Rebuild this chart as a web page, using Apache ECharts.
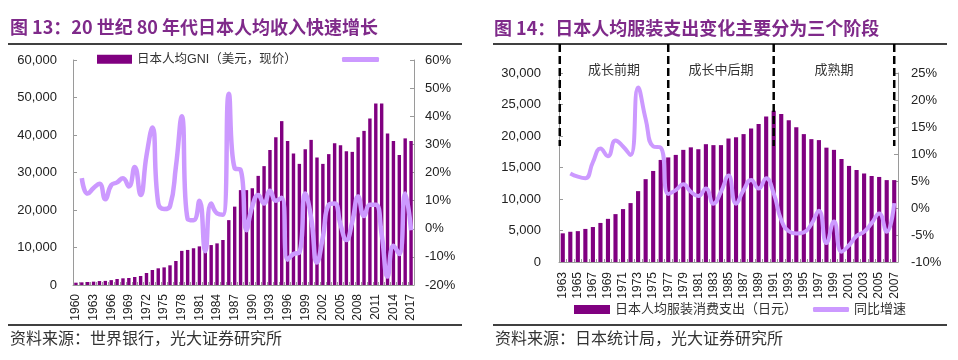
<!DOCTYPE html>
<html><head><meta charset="utf-8">
<script src="https://cdn.jsdelivr.net/npm/echarts/dist/echarts.min.js"></script>
<style>html,body{margin:0;padding:0;background:#fff}#c{width:958px;height:360px}</style>
</head><body><div id="c"></div>
<script>
// ---- Chart 13 data ----
const gniYears = ['1960','1961','1962','1963','1964','1965','1966','1967','1968','1969',
  '1970','1971','1972','1973','1974','1975','1976','1977','1978','1979',
  '1980','1981','1982','1983','1984','1985','1986','1987','1988','1989',
  '1990','1991','1992','1993','1994','1995','1996','1997','1998','1999',
  '2000','2001','2002','2003','2004','2005','2006','2007','2008','2009',
  '2010','2011','2012','2013','2014','2015','2016','2017'];
const gniValues = [620,710,800,890,1050,1100,1300,1600,1780,1870,
  2130,2400,3200,4000,4450,4700,5250,6400,9100,9350,
  9800,10300,8900,10650,11100,12000,17300,20900,25300,25300,
  25800,29100,31700,36000,39400,43700,38400,35100,32300,36200,
  38700,34000,32300,34900,37800,37300,35700,35500,39400,41100,
  44400,48400,48400,40400,38400,34700,39100,38400];
const gniGrowth = [null,18,12.5,14.5,16,10.5,15.5,16.5,18,15,
  22,12,26,36,9,7,8,22,40,3.5,
  3,10,-8,9,5.5,5,48,21.5,21,-0.5,
  8,12,9,13.5,10,11,-11,-9,-8.5,12.5,
  4,-12,-3,8.5,9,1.5,-4,2.5,11.5,4.5,
  8.5,8.5,-2,-17,-6,-9,12.5,-0.5];

// ---- Chart 14 data ----
const clothYears = ['1963','1964','1965','1966','1967','1968','1969','1970','1971','1972',
  '1973','1974','1975','1976','1977','1978','1979','1980','1981','1982',
  '1983','1984','1985','1986','1987','1988','1989','1990','1991','1992',
  '1993','1994','1995','1996','1997','1998','1999','2000','2001','2002',
  '2003','2004','2005','2006','2007'];
const clothValues = [4550,4800,4900,5250,5550,6200,6850,7600,8400,9350,
  11250,13150,14450,16200,16600,17000,17800,18200,17900,18700,
  18550,18550,19600,19800,20300,21200,21900,23100,24000,23500,
  22500,21400,20300,19500,19350,18150,17800,16350,15250,14600,
  14050,13650,13500,13000,13000];
const clothGrowth = [null,6.4,5.8,5.5,8.5,11,9.6,12.5,11.4,9.8,
  22.3,16.5,11.4,11.2,2.6,3.3,4.4,3,2.2,3.6,
  0.8,3,6,0.8,3.3,5.2,3.6,5.5,2.7,-2.2,
  -4.3,-4.7,-4.5,-3,-0.5,-6.5,-2.5,-8.1,-6.9,-5.2,
  -4.4,-2.8,-1,-4.4,0.9];
const phaseYears = ['1977','1991','2007'];
const phaseNames = ['成长前期','成长中后期','成熟期'];

const BAR = '#800080', LINE = '#CC99FF';
const FONT = '"Liberation Sans", Arial, "Noto Sans CJK SC", sans-serif';
const CJK = '"Noto Sans CJK SC", sans-serif';
const axisCol = '#9a9a9a';

function yAx(grid, min, max, interval, pos, margin, fmt) {
  return {
    gridIndex: grid, type: 'value', min, max, interval, position: pos,
    axisLine: {show: true, lineStyle: {color: axisCol, width: 1}},
    axisTick: {show: true, inside: true, length: 4, lineStyle: {color: axisCol}},
    splitLine: {show: false},
    axisLabel: {formatter: fmt, fontSize: 13, color: '#222', margin, fontFamily: FONT}
  };
}
function xAx(grid, data, interval, fs, margin) {
  return {
    gridIndex: grid, type: 'category', data,
    axisLine: {onZero: false, lineStyle: {color: axisCol}},
    axisTick: {show: true, inside: true, length: 3, interval: 0, lineStyle: {color: axisCol}},
    axisLabel: {interval, rotate: 90, fontSize: fs, color: '#222', margin, fontFamily: FONT}
  };
}
const thousands = v => v.toLocaleString('en-US');
const pct = v => v + '%';

const chart = echarts.init(document.getElementById('c'));
chart.setOption({
  animation: false,
  backgroundColor: '#fff',
  grid: [
    {left: 73, top: 60, width: 341, height: 225},
    {left: 559, top: 73, width: 339, height: 189}
  ],
  xAxis: [xAx(0, gniYears, 2, 12, 9), xAx(1, clothYears, 1, 12, 10)],
  yAxis: [
    yAx(0, 0, 60000, 10000, 'left', 16, thousands),
    yAx(0, -20, 60, 10, 'right', 11, pct),
    yAx(1, 0, 30000, 5000, 'left', 18, thousands),
    yAx(1, -10, 25, 5, 'right', 13, pct)
  ],
  legend: [
    {data: ['日本人均GNI（美元，现价）'], left: 97, top: 53, padding: 0, itemWidth: 35, itemHeight: 9, icon: 'rect',
     selectedMode: false, textStyle: {fontSize: 12.5, color: '#333', fontFamily: FONT}},
    {data: ['GNI同比'], left: 342, top: 57, padding: 0, itemWidth: 37, itemHeight: 5, icon: 'roundRect',
     selectedMode: false, formatter: () => '', textStyle: {fontSize: 12}},
    {data: ['日本人均服装消费支出（日元）'], left: 574, top: 303, padding: 0, itemWidth: 36, itemHeight: 9, icon: 'rect',
     selectedMode: false, textStyle: {fontSize: 13, color: '#333', fontFamily: FONT}},
    {data: ['同比增速'], left: 813, top: 303, padding: 0, itemWidth: 36, itemHeight: 5, icon: 'roundRect',
     selectedMode: false, textStyle: {fontSize: 13, color: '#333', fontFamily: FONT}}
  ],
  series: [
    {name: '日本人均GNI（美元，现价）', type: 'bar', xAxisIndex: 0, yAxisIndex: 0, data: gniValues,
     barWidth: '58%', itemStyle: {color: BAR}},
    {name: 'GNI同比', type: 'line', xAxisIndex: 0, yAxisIndex: 1, data: gniGrowth, smooth: 0.5,
     showSymbol: false, lineStyle: {color: LINE, width: 4.5}, itemStyle: {color: LINE}, z: 5},
    {name: '日本人均服装消费支出（日元）', type: 'bar', xAxisIndex: 1, yAxisIndex: 2, data: clothValues,
     barWidth: '55%', itemStyle: {color: BAR}},
    {name: '同比增速', type: 'line', xAxisIndex: 1, yAxisIndex: 3, data: clothGrowth, smooth: 0.5,
     showSymbol: false, lineStyle: {color: LINE, width: 4}, itemStyle: {color: LINE}, z: 5}
  ]
});

// Annotations (titles, rules, sources, phase dividers)
const gridLeft2 = chart.convertToPixel({xAxisIndex: 1}, clothYears[0]) - 3;
const divX = [gridLeft2].concat(phaseYears.map(y => chart.convertToPixel({xAxisIndex: 1}, y)));
const g = [
  {type: 'text', x: 10, y: 27, style: {text: '图 13：20 世纪 80 年代日本人均收入快速增长', fill: '#7F2A8A',
    font: 'bold 18px ' + CJK, verticalAlign: 'middle'}},
  {type: 'text', x: 494, y: 28, style: {text: '图 14：日本人均服装支出变化主要分为三个阶段', fill: '#7F2A8A',
    font: 'bold 18px ' + CJK, verticalAlign: 'middle'}},
  {type: 'line', shape: {x1: 8, y1: 44, x2: 462, y2: 44}, style: {stroke: '#000', lineWidth: 1.5}},
  {type: 'line', shape: {x1: 493, y1: 44, x2: 947, y2: 44}, style: {stroke: '#000', lineWidth: 1.5}},
  {type: 'line', shape: {x1: 8, y1: 325, x2: 462, y2: 325}, style: {stroke: '#000', lineWidth: 1.5}},
  {type: 'line', shape: {x1: 493, y1: 325, x2: 947, y2: 325}, style: {stroke: '#000', lineWidth: 1.5}},
  {type: 'text', x: 10, y: 338, style: {text: '资料来源：世界银行，光大证券研究所', fill: '#333',
    font: '16px ' + CJK, verticalAlign: 'middle'}},
  {type: 'text', x: 495, y: 338, style: {text: '资料来源：日本统计局，光大证券研究所', fill: '#333',
    font: '16px ' + CJK, verticalAlign: 'middle'}}
];
divX.forEach(x => g.push({type: 'line', z: 100, shape: {x1: x, y1: 44, x2: x, y2: 146},
  style: {stroke: '#000', lineWidth: 2.5, lineDash: [8, 4]}}));
phaseNames.forEach((n, i) => g.push({type: 'text', x: (divX[i] + divX[i + 1]) / 2, y: 69,
  style: {text: n, fill: '#333', font: '13px ' + CJK, align: 'center', verticalAlign: 'middle'}}));
chart.setOption({graphic: g});
</script></body></html>
